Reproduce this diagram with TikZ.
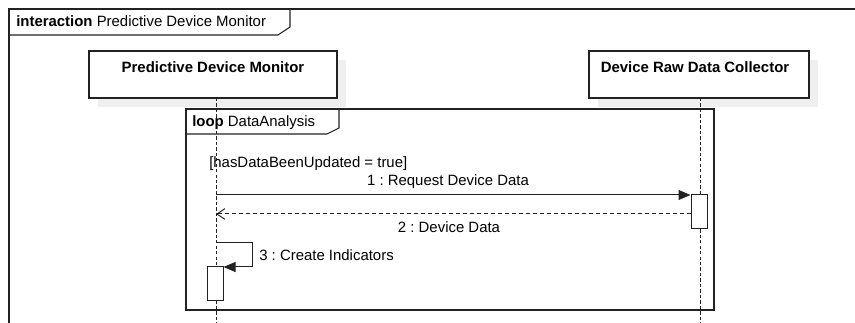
\documentclass[tikz,border=0pt]{standalone}
\usepackage{fontspec}
\setmainfont{Liberation Sans}
\frenchspacing
\usetikzlibrary{arrows.meta}
\definecolor{ink}{HTML}{222222}
\definecolor{shade}{HTML}{EFEFEF}
\tikzset{
  frameline/.style={draw=ink, line width=0.8pt},
  headbox/.style={draw=ink, fill=white, line width=0.8pt, inner sep=0pt},
  shadowbox/.style={fill=shade, draw=none, inner sep=0pt},
  lifeline/.style={draw=ink, line width=0.75pt, dash pattern=on 2.5pt off 1.6pt},
  actbox/.style={draw=ink, fill=white, line width=0.75pt, inner sep=0pt, minimum width=16*0.75pt, minimum height=34*0.75pt},
  syncmsg/.style={draw=ink, line width=0.75pt, -{Triangle[length=9pt,width=7.5pt]}},
  replymsg/.style={draw=ink, line width=0.75pt, dash pattern=on 3pt off 2.25pt, -{Straight Barb[length=6pt,width=8pt,line width=0.75pt]}},
  txt/.style={inner sep=0pt, text=black},
}
\begin{document}
\begin{tikzpicture}[x=0.75pt,y=-0.75pt, font=\fontsize{11.2}{13}\selectfont\frenchspacing]
\useasboundingbox (0,0) rectangle (855,323);
\clip (0,0) rectangle (855,323);
\fill[white] (0,0) rectangle (855,323);

% outer interaction frame
\draw[frameline] (9,340) -- (9,9) -- (880,9);
\draw[frameline] (9,35) -- (278,35) -- (290,27) -- (290,9);
\node[txt, anchor=base west] (ftitle) at (16,27) {\textbf{interaction} Predictive Device Monitor};

% lifeline heads with shadows
\node[shadowbox, minimum width=248*0.75pt, minimum height=47*0.75pt] (sh1) at (222,83.5) {};
\node[shadowbox, minimum width=220*0.75pt, minimum height=47*0.75pt] (sh2) at (708,83.5) {};
\node[headbox, minimum width=248*0.75pt, minimum height=47*0.75pt] (h1) at (213,74.5) {};
\node[headbox, minimum width=220*0.75pt, minimum height=47*0.75pt] (h2) at (699,74.5) {};
\node[txt, anchor=base] (h1t) at (213,73) {\textbf{Predictive Device Monitor}};
\node[txt, anchor=base] (h2t) at (695,73) {\textbf{Device Raw Data Collector}};

% lifelines
\coordinate (l1top) at (216,98);
\coordinate (l1bot) at (216,330);
\coordinate (l2top) at (700,98);
\coordinate (l2bot) at (700,330);
\draw[lifeline] (l1top) -- (l1bot);
\draw[lifeline] (l2top) -- (l2bot);

% loop combined fragment
\draw[frameline] (186,109) rectangle (714,310);
\draw[frameline] (186,134) -- (327,134) -- (339,128) -- (339,109);
\node[txt, anchor=base west] (looplbl) at (192,127) {\textbf{loop} DataAnalysis};
\node[txt, anchor=base west] (guard) at (209,168) {[hasDataBeenUpdated = true]};

% activations
\node[actbox] (a2) at (699,212) {};
\node[actbox] (a1) at (215,284) {};

% messages
\coordinate (m1s) at (216,195);
\draw[syncmsg] (m1s) -- (m1s -| a2.west);
\node[txt, anchor=base] (m1l) at (448,186) {1 : Request Device Data};

\coordinate (m2s) at (a2.west |- 0,214);
\coordinate (m2e) at (216,214);
\draw[replymsg] (m2s) -- (m2e);
\node[txt, anchor=base] (m2l) at (449,233) {2 : Device Data};

\coordinate (m3s) at (216,243);
\coordinate (m3a) at (252,243);
\coordinate (m3b) at (252,267);
\draw[syncmsg] (m3s) -- (m3a) -- (m3b) -- (m3b -| a1.east);
\node[txt, anchor=base west] (m3l) at (259,261) {3 : Create Indicators};
\end{tikzpicture}
\end{document}
